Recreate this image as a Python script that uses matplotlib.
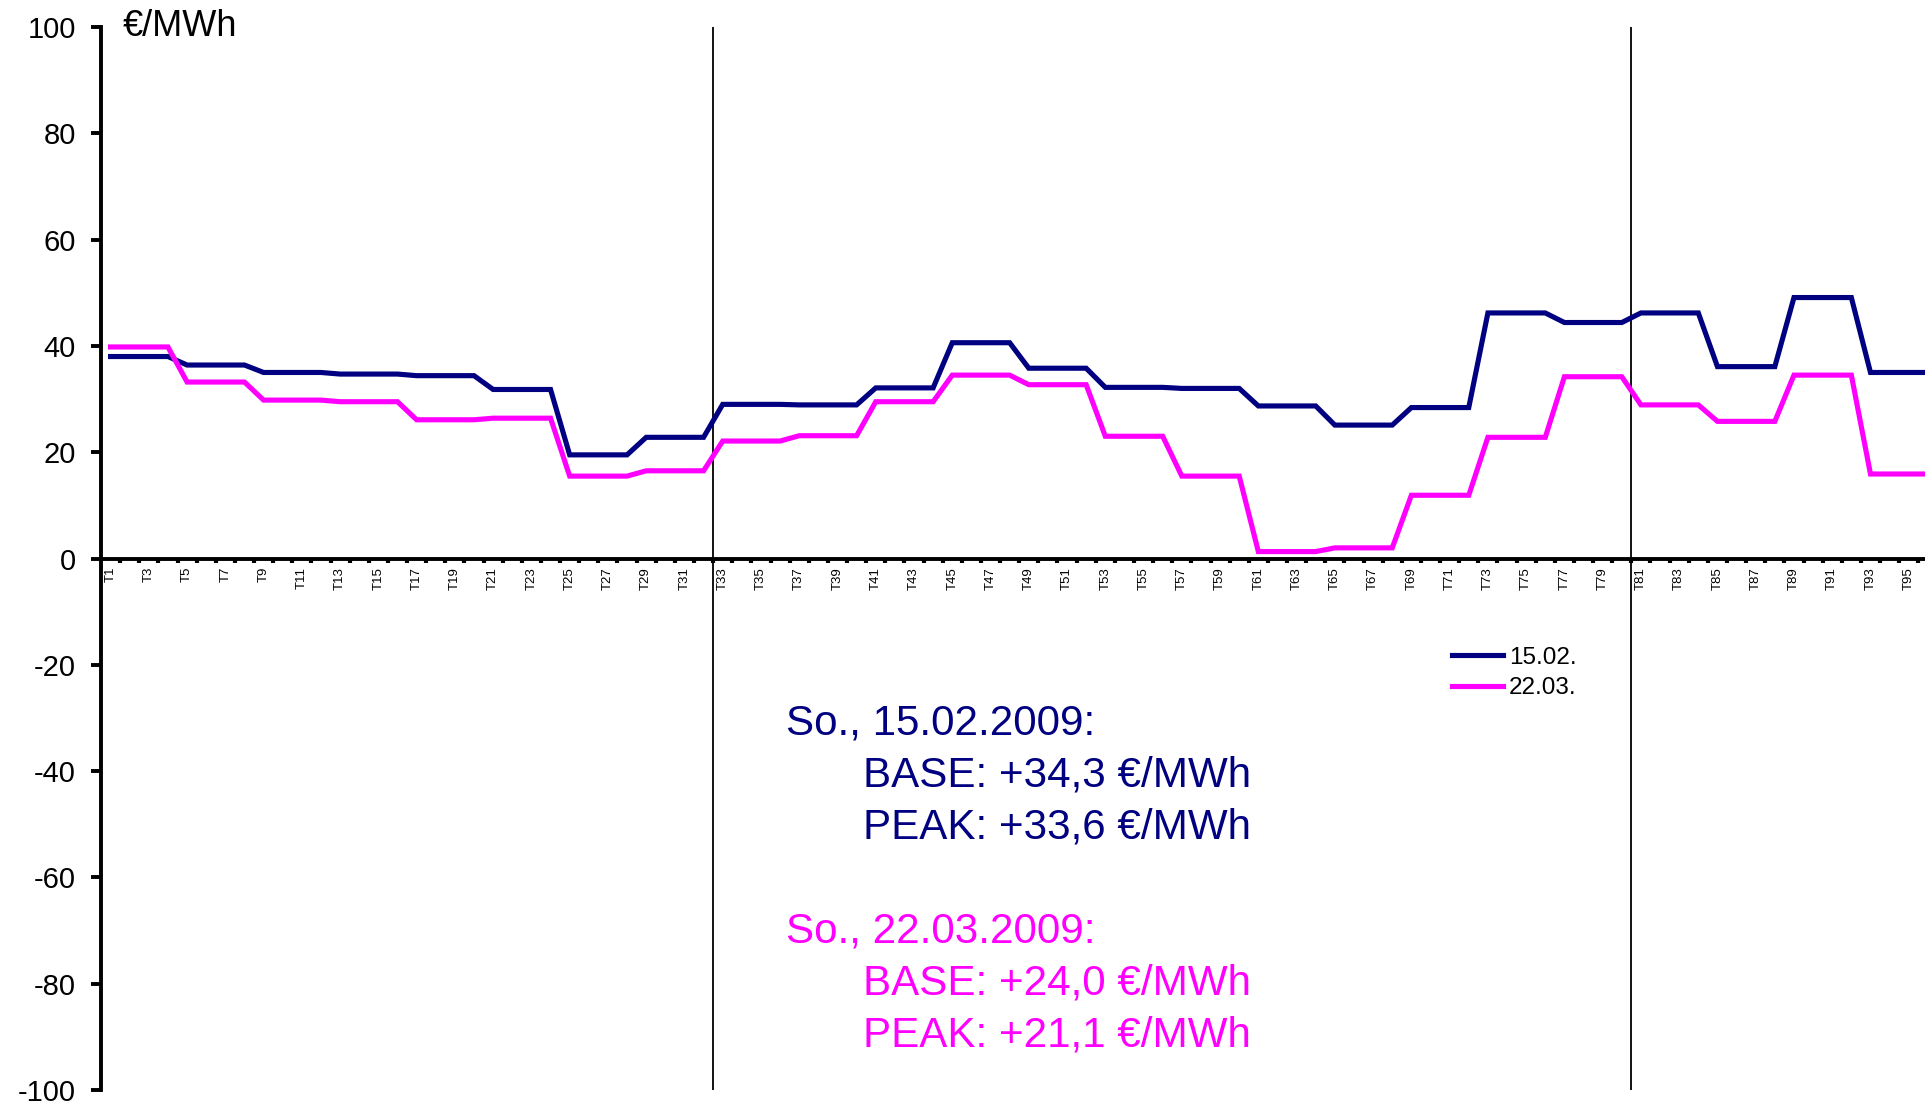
import numpy as np
import matplotlib.pyplot as plt

plt.rcParams['font.family'] = ['Liberation Sans', 'DejaVu Sans']
plt.rcParams['axes.unicode_minus'] = False

# Stundenwerte (je 4 Viertelstunden)
stunden_1502 = [38.0, 36.4, 35.0, 34.7, 34.4, 31.8, 19.5, 22.8,
                29.0, 28.9, 32.1, 40.6, 35.8, 32.2, 32.0, 28.7,
                25.1, 28.4, 46.2, 44.4, 46.2, 36.1, 49.1, 35.0]
stunden_2203 = [39.8, 33.2, 29.8, 29.5, 26.1, 26.4, 15.5, 16.5,
                22.1, 23.1, 29.5, 34.5, 32.7, 23.0, 15.5, 1.3,
                2.0, 11.9, 22.8, 34.2, 28.9, 25.8, 34.5, 15.9]

labels = ['T%d' % i for i in range(1, 97)]
peak_grenzen = [32.5, 80.5]

texte_1502 = ['So., 15.02.2009:', 'BASE: +34,3 €/MWh', 'PEAK: +33,6 €/MWh']
texte_2203 = ['So., 22.03.2009:', 'BASE: +24,0 €/MWh', 'PEAK: +21,1 €/MWh']

NAVY = '#000080'
MAGENTA = '#FF00FF'

# Viertelstunden-Reihen
v_1502 = np.repeat(stunden_1502, 4)
v_2203 = np.repeat(stunden_2203, 4)
x = np.arange(1, 97)

W, H = 1925, 1104
fig = plt.figure(figsize=(W / 100, H / 100), dpi=100)
ax = fig.add_axes([101 / W, 1 - 1090 / H, 1 - 101 / W, (1090 - 27) / H])

ax.plot(x, v_1502, color=NAVY, lw=3.7, label='15.02.', solid_joinstyle='miter')
ax.plot(x, v_2203, color=MAGENTA, lw=3.7, label='22.03.', solid_joinstyle='miter')

for g in peak_grenzen:
    ax.axvline(g, color='black', lw=1.3, zorder=1)

ax.set_xlim(0.5, 95.85)
ax.set_ylim(-100, 100)

# Achsen
for s in ['top', 'right']:
    ax.spines[s].set_visible(False)
ax.spines['bottom'].set_position(('data', 0))
ax.spines['bottom'].set_linewidth(2.8)
ax.spines['left'].set_linewidth(2.8)
ax.spines['left'].set_position(('data', 0.5))

ax.set_yticks(np.arange(-100, 101, 20))
ax.tick_params(axis='y', direction='out', length=7, width=2.8, labelsize=21, pad=11)

ax.set_xticks(x[::2])
ax.set_xticklabels(labels[::2], rotation=90, fontsize=9.5, va='top')
ax.set_xticks(np.arange(1.5, 96, 1), minor=True)
ax.tick_params(axis='x', which='major', length=0, pad=6)
ax.tick_params(axis='x', which='minor', direction='out', length=3, width=3)

fig.text(123 / W, 1 - 27 / H, '€/MWh', fontsize=26, va='center', ha='left')

ax.legend(loc='upper left', bbox_to_anchor=(1430 / W, 1 - 625 / H),
          bbox_transform=fig.transFigure, frameon=False, fontsize=17.5,
          handlelength=2.1, handletextpad=0.25, labelspacing=0.35)

# Textblock
zeilen_y = [724, 776, 827, 932, 983, 1035]
zeilen_x = [786, 863, 863, 786, 863, 863]
for i, t in enumerate(texte_1502 + texte_2203):
    farbe = NAVY if i < 3 else MAGENTA
    fig.text(zeilen_x[i] / W, 1 - zeilen_y[i] / H, t, fontsize=30.3,
             color=farbe, va='center', ha='left')

fig.savefig('out.png', dpi=100)
